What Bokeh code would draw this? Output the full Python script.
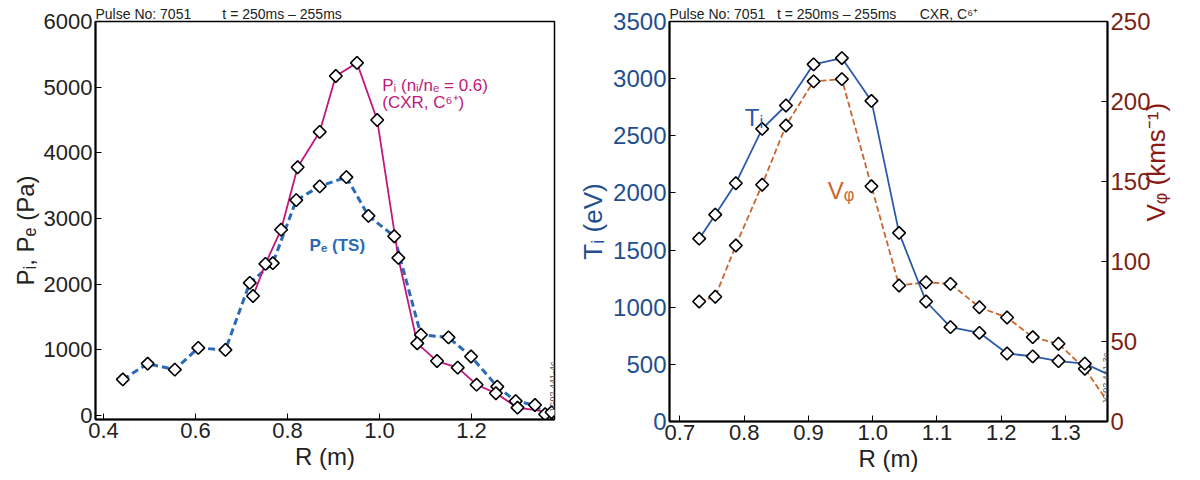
import math
from bokeh.plotting import figure
from bokeh.layouts import row
from bokeh.models import Range1d, LinearAxis, Label, FixedTicker
from bokeh.embed import file_html
from bokeh.resources import INLINE

# ---------------- data ----------------
pe_r = [0.442, 0.496, 0.555, 0.606, 0.665, 0.718, 0.768, 0.819, 0.870, 0.928,
        0.976, 1.032, 1.090, 1.150, 1.199, 1.256, 1.296, 1.338, 1.360]
pe_val = [550, 790, 700, 1030, 1000, 2020, 2320, 3280, 3490, 3630,
          3040, 2730, 1230, 1190, 900, 440, 220, 160, 20]

pi_r = [0.725, 0.752, 0.786, 0.822, 0.870, 0.905, 0.951, 0.995, 1.041, 1.082,
        1.125, 1.170, 1.211, 1.253, 1.300, 1.374]
pi_val = [1820, 2310, 2830, 3780, 4320, 5170, 5370, 4500, 2400, 1100,
          830, 730, 470, 340, 120, 50]

ti_r = [0.730, 0.755, 0.787, 0.828, 0.865, 0.908, 0.952, 0.998, 1.041, 1.083,
        1.121, 1.166, 1.209, 1.249, 1.289, 1.330, 1.400]
ti_val = [1600, 1810, 2085, 2560, 2765, 3125, 3180, 2805, 1650, 1050,
          826, 776, 595, 570, 528, 506, 325]

vphi_r = [0.730, 0.755, 0.787, 0.828, 0.865, 0.908, 0.952, 0.998, 1.041, 1.083,
          1.121, 1.166, 1.209, 1.249, 1.289, 1.330, 1.380]
vphi_val = [75, 78, 110, 148, 185, 212.6, 214, 147, 85, 87,
            86, 71.4, 65, 52.7, 48.6, 33, 4]

left_x_ticks = [0.4, 0.6, 0.8, 1.0, 1.2]
left_y_ticks = [0, 1000, 2000, 3000, 4000, 5000, 6000]
right_x_ticks = [0.7, 0.8, 0.9, 1.0, 1.1, 1.2, 1.3]
right_y_ticks = [0, 500, 1000, 1500, 2000, 2500, 3000, 3500]
right_v_ticks = [0, 50, 100, 150, 200, 250]

FONT = "Liberation Sans"
MAGENTA = "#c0187c"
PE_BLUE = "#2a6ab6"
TI_BLUE = "#2d5aa8"
V_ORANGE = "#c9652e"
AX_BLUE = "#1f4f8f"
AX_RED = "#7d1f14"
NB = "\u00a0"


def style_axis(ax, color, size):
    ax.axis_line_color = "black"
    ax.axis_line_width = 2
    ax.major_tick_line_color = "black"
    ax.major_tick_in = 6
    ax.major_tick_out = 0
    ax.minor_tick_line_color = None
    ax.major_label_text_font = FONT
    ax.major_label_text_font_size = size
    ax.major_label_text_color = color
    ax.major_label_standoff = 3
    ax.axis_label_text_font = FONT
    ax.axis_label_text_font_style = "normal"
    ax.axis_label_standoff = 2


def style_title(p):
    p.title.text_font = FONT
    p.title.text_font_size = "14px"
    p.title.text_font_style = "normal"
    p.title.text_color = "#222222"
    p.title.standoff = 0
    p.title.offset = 0


# ---------------- left figure ----------------
p1 = figure(frame_width=459, frame_height=398,
            x_range=Range1d(0.3826, 1.3804), y_range=Range1d(-60, 6000),
            output_backend="svg", toolbar_location=None,
            min_border_left=95, min_border_right=21, min_border_top=15, min_border_bottom=60,
            title="Pulse No: 7051" + NB * 8 + "t = 250ms \u2013 255ms")
style_title(p1)
p1.xgrid.visible = False
p1.ygrid.visible = False
p1.outline_line_color = "black"
p1.outline_line_width = 1.5
p1.xaxis.ticker = FixedTicker(ticks=left_x_ticks)
p1.yaxis.ticker = FixedTicker(ticks=left_y_ticks)
p1.xaxis.major_label_overrides = {1.0: "1.0"}
style_axis(p1.xaxis[0], "#222222", "22px")
style_axis(p1.yaxis[0], "#222222", "22px")
p1.xaxis.axis_label = "R (m)"
p1.xaxis.axis_label_text_font_size = "24px"
p1.xaxis.axis_label_text_color = "#222222"
p1.yaxis.axis_label = "P\u1d62, P\u2091 (Pa)" + NB * 3
p1.yaxis.axis_label_text_font_size = "24px"
p1.yaxis.axis_label_text_color = "#222222"

p1.line(pe_r, pe_val, line_color=PE_BLUE, line_width=3, line_dash="7 4")
p1.line(pi_r, pi_val, line_color=MAGENTA, line_width=1.8)
p1.scatter(pe_r, pe_val, marker="square", angle=math.pi / 4, size=9,
           fill_color="white", line_color="black", line_width=1.6)
p1.scatter(pi_r, pi_val, marker="square", angle=math.pi / 4, size=9,
           fill_color="white", line_color="black", line_width=1.6)

p1.add_layout(Label(x=1.006, y=5020, text="P\u1d62 (n\u1d62/n\u2091 = 0.6)", text_baseline="alphabetic",
                    text_font=FONT, text_font_size="17px", text_color=MAGENTA))
p1.add_layout(Label(x=1.006, y=4760, text="(CXR, C\u2076\u207a)", text_baseline="alphabetic",
                    text_font=FONT, text_font_size="17px", text_color=MAGENTA))
p1.add_layout(Label(x=0.848, y=2590, text="P\u2091 (TS)", text_baseline="alphabetic",
                    text_font=FONT, text_font_size="17px", text_color=PE_BLUE,
                    text_font_style="bold"))
p1.add_layout(Label(x=1.378, y=40, text="JG02.441-4c", angle=math.pi / 2,
                    text_baseline="alphabetic",
                    text_font=FONT, text_font_size="9px", text_color="#555555"))

# ---------------- right figure ----------------
p2 = figure(frame_width=438, frame_height=400,
            x_range=Range1d(0.6838, 1.3653), y_range=Range1d(0, 3500),
            output_backend="svg", toolbar_location=None,
            min_border_left=93, min_border_right=94, min_border_top=21, min_border_bottom=53,
            title="Pulse No: 7051" + NB * 3 + "t = 250ms \u2013 255ms" + NB * 6 + "CXR, C\u2076\u207a")
style_title(p2)
p2.extra_y_ranges = {"v": Range1d(0, 250)}
p2.xgrid.visible = False
p2.ygrid.visible = False
p2.outline_line_color = "black"
p2.outline_line_width = 1.5
p2.xaxis.ticker = FixedTicker(ticks=right_x_ticks)
p2.yaxis.ticker = FixedTicker(ticks=right_y_ticks)
p2.xaxis.major_label_overrides = {1.0: "1.0"}
style_axis(p2.xaxis[0], "#222222", "22px")
style_axis(p2.yaxis[0], AX_BLUE, "24px")
p2.xaxis.axis_label = "R (m)"
p2.xaxis.axis_label_text_font_size = "24px"
p2.xaxis.axis_label_text_color = "#222222"
p2.yaxis.axis_label = "T\u1d62 (eV)"
p2.yaxis.axis_label_text_font_size = "26px"
p2.yaxis.axis_label_text_color = AX_BLUE

vax = LinearAxis(y_range_name="v", ticker=FixedTicker(ticks=right_v_ticks))
style_axis(vax, AX_RED, "24px")
vax.axis_label = "V\u1d69 (kms\u207b\u00b9)"
vax.axis_label_text_font_size = "26px"
vax.axis_label_text_color = "#8b1a12"
vax.axis_label_orientation = math.pi / 2
p2.add_layout(vax, "right")

p2.line(vphi_r, vphi_val, y_range_name="v", line_color=V_ORANGE, line_width=1.8, line_dash="6 3")
p2.line(ti_r, ti_val, line_color=TI_BLUE, line_width=1.8)
p2.scatter(vphi_r, vphi_val, y_range_name="v", marker="square", angle=math.pi / 4, size=9,
           fill_color="white", line_color="black", line_width=1.6)
p2.scatter(ti_r, ti_val, marker="square", angle=math.pi / 4, size=9,
           fill_color="white", line_color="black", line_width=1.6)

p2.add_layout(Label(x=0.801, y=2660, text="T\u1d62", text_font=FONT, text_baseline="alphabetic",
                    text_font_size="24px", text_color=TI_BLUE))
p2.add_layout(Label(x=0.930, y=2021, text="V\u1d69", text_font=FONT, text_baseline="alphabetic",
                    text_font_size="24px", text_color=V_ORANGE))
p2.add_layout(Label(x=1.363, y=150, text="JG02.441-3c", angle=math.pi / 2,
                    text_baseline="alphabetic",
                    text_font=FONT, text_font_size="9px", text_color="#555555"))

layout = row(p1, p2, spacing=0)
open("out.html", "w").write(file_html(layout, INLINE))
